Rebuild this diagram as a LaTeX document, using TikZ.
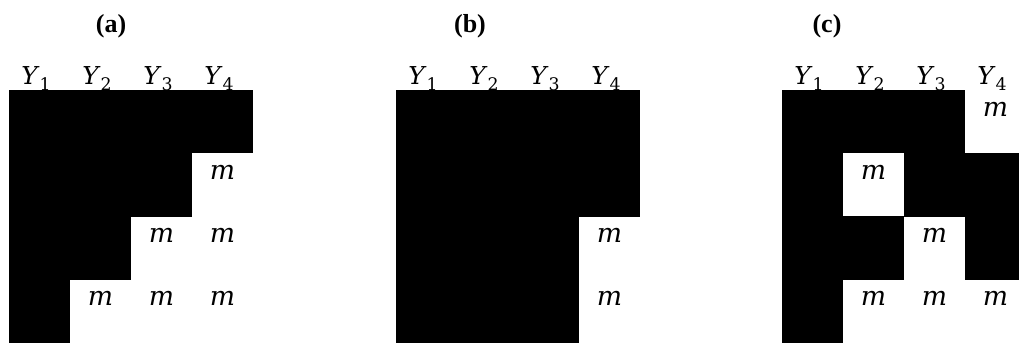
\documentclass[tikz,border=0pt]{standalone}
\usepackage{fontspec}
\setmainfont{Liberation Serif}
\newfontfamily\varfont{DejaVu Serif}
\newcommand{\varsub}[2]{\textit{#1}\raisebox{-4pt}{\fontsize{13}{15}\selectfont #2}}
\usetikzlibrary{positioning}

\begin{document}
\begin{tikzpicture}[
  x=0.75pt, y=0.75pt,
  cell/.style={minimum width=46pt, minimum height=47.7pt, inner sep=0pt, font=\varfont\fontsize{20}{24}\selectfont},
  cell1/.style={cell, fill=black},
  cell0/.style={cell, text depth=19pt},
  head/.style={anchor=base, inner sep=0pt, font=\varfont\fontsize{18.5}{22}\selectfont},
  panel/.style={font=\bfseries\fontsize{19.5}{23}\selectfont}
]
  \useasboundingbox (0,0) rectangle (1019,343);

  % (a)
  \node[panel] (ta) at (111,317) {(a)};
  \foreach \row [count=\i] in {{1,1,1,1},{1,1,1,0},{1,1,0,0},{1,0,0,0}}
    \foreach \v [count=\j] in \row
      \node[cell\v] (a-\i-\j) at (9+61*\j-30.5, 253-63.25*\i+31.6) {\ifnum\v=0 \textit{m}\fi};
  \foreach \j in {1,...,4}
    \node[head] (ya-\j) at (9+61*\j-34, 258) {\varsub{Y}{\j}};

  % (b)
  \node[panel] (tb) at (470,317) {(b)};
  \foreach \row [count=\i] in {{1,1,1,1},{1,1,1,1},{1,1,1,0},{1,1,1,0}}
    \foreach \v [count=\j] in \row
      \node[cell\v] (b-\i-\j) at (396+61*\j-30.5, 253-63.25*\i+31.6) {\ifnum\v=0 \textit{m}\fi};
  \foreach \j in {1,...,4}
    \node[head] (yb-\j) at (396+61*\j-34, 258) {\varsub{Y}{\j}};

  % (c)
  \node[panel] (tc) at (827,317) {(c)};
  \foreach \row [count=\i] in {{1,1,1,0},{1,0,1,1},{1,1,0,1},{1,0,0,0}}
    \foreach \v [count=\j] in \row
      \node[cell\v] (c-\i-\j) at (782+61*\j-30.5, 253-63.25*\i+31.6) {\ifnum\v=0 \textit{m}\fi};
  \foreach \j in {1,...,4}
    \node[head] (yc-\j) at (782+61*\j-34, 258) {\varsub{Y}{\j}};
\end{tikzpicture}
\end{document}
